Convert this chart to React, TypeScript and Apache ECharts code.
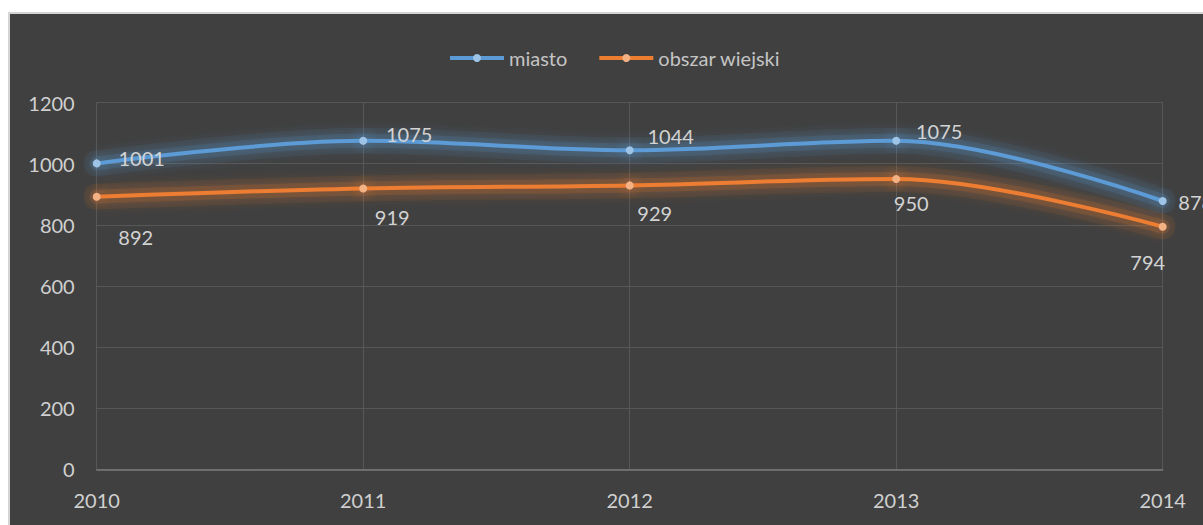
import React, { useEffect, useRef } from "react";
import * as echarts from "echarts";

const years = ["2010", "2011", "2012", "2013", "2014"];
const miasto = [1001, 1075, 1044, 1075, 878];
const obszarWiejski = [892, 919, 929, 950, 794];
const seriesNames = ["miasto", "obszar wiejski"];

const miastoLabelOffsets = [[45, -5], [46, -7], [41, -14], [43, -10], [33, 1]];
const wiejskiLabelOffsets = [[39, 40], [29, 29], [25, 28], [15, 24], [-15, 35]];

const FONT = "Lato, 'Open Sans', sans-serif";
const SMOOTH = 0.35;

function buildData(values: number[], offsets: number[][]) {
  return values.map((v, i) => ({
    value: v,
    label: { offset: offsets[i] },
  }));
}

export default function App() {
  const ref = useRef<HTMLDivElement>(null);
  useEffect(() => {
    if (!ref.current) return;
    const chart = echarts.init(ref.current, null, { renderer: "svg" });
    const glow = (values: number[], rgb: string, width: number, alpha: number) => ({
      name: "glow",
      type: "line",
      smooth: SMOOTH,
      data: values,
      symbol: "none",
      silent: true,
      lineStyle: { color: `rgba(${rgb},${alpha})`, width, cap: "round" },
      emphasis: { disabled: true },
      z: 1,
    });
    const mk = (name: string, values: number[], offsets: number[][], color: string, light: string, glowC: string) => ({
      name,
      type: "line",
      smooth: SMOOTH,
      data: buildData(values, offsets),
      symbol: "circle",
      symbolSize: 8,
      lineStyle: { color, width: 4, shadowColor: glowC, shadowBlur: 16 },
      itemStyle: { color: light, shadowColor: glowC, shadowBlur: 14 },
      label: {
        show: true,
        position: "inside",
        align: "center",
        verticalAlign: "middle",
        color: "#d3d3d3",
        fontFamily: FONT,
        fontSize: 20,
      },
      emphasis: { disabled: true },
      z: 3,
    });
    chart.setOption({
      animation: false,
      backgroundColor: "#404040",
      textStyle: { fontFamily: FONT },
      legend: {
        left: 433,
        top: 29,
        itemWidth: 54,
        itemHeight: 10,
        itemGap: 30,
        lineStyle: { width: 4 },
        textStyle: { color: "#c4c4c4", fontSize: 20, fontFamily: FONT },
        data: seriesNames,
      },
      grid: { left: 86.7, top: 88.6, width: 1066, height: 366.7, containLabel: false },
      xAxis: {
        type: "category",
        data: years,
        boundaryGap: false,
        axisLine: { lineStyle: { color: "#7a7a7a", width: 1.5 } },
        axisTick: { show: false },
        axisLabel: { color: "#d0d0d0", fontSize: 20, fontFamily: FONT, margin: 21 },
        splitLine: { show: true, lineStyle: { color: "#575757", width: 1 } },
      },
      yAxis: {
        type: "value",
        min: 0,
        max: 1200,
        interval: 200,
        axisLine: { show: false },
        axisTick: { show: false },
        axisLabel: {
          color: "#d0d0d0",
          fontSize: 20,
          fontFamily: FONT,
          margin: 22,
          formatter: (v: number) => String(v),
        },
        splitLine: { show: true, lineStyle: { color: "#575757", width: 1 } },
      },
      series: [
        glow(miasto, "91,155,213", 26, 0.07),
        glow(miasto, "91,155,213", 14, 0.14),
        glow(obszarWiejski, "237,125,49", 26, 0.07),
        glow(obszarWiejski, "237,125,49", 14, 0.14),
        mk(seriesNames[0], miasto, miastoLabelOffsets, "#5b9bd5", "#9dc3e6", "rgba(91,155,213,0.95)"),
        mk(seriesNames[1], obszarWiejski, wiejskiLabelOffsets, "#ed7d31", "#f4b183", "rgba(237,125,49,0.9)"),
      ],
    });
    return () => chart.dispose();
  }, []);
  return (
    <div style={{ position: "fixed", left: 0, top: 0, width: 1203, height: 525, overflow: "hidden", background: "#ffffff" }}>
      <div
        style={{
          position: "absolute",
          left: 8,
          top: 12,
          borderTop: "2px solid #d4d4d4",
          borderLeft: "2px solid #d4d4d4",
          width: 1240,
          height: 530,
        }}
      >
        <div ref={ref} style={{ width: 1240, height: 530 }} />
      </div>
    </div>
  );
}
